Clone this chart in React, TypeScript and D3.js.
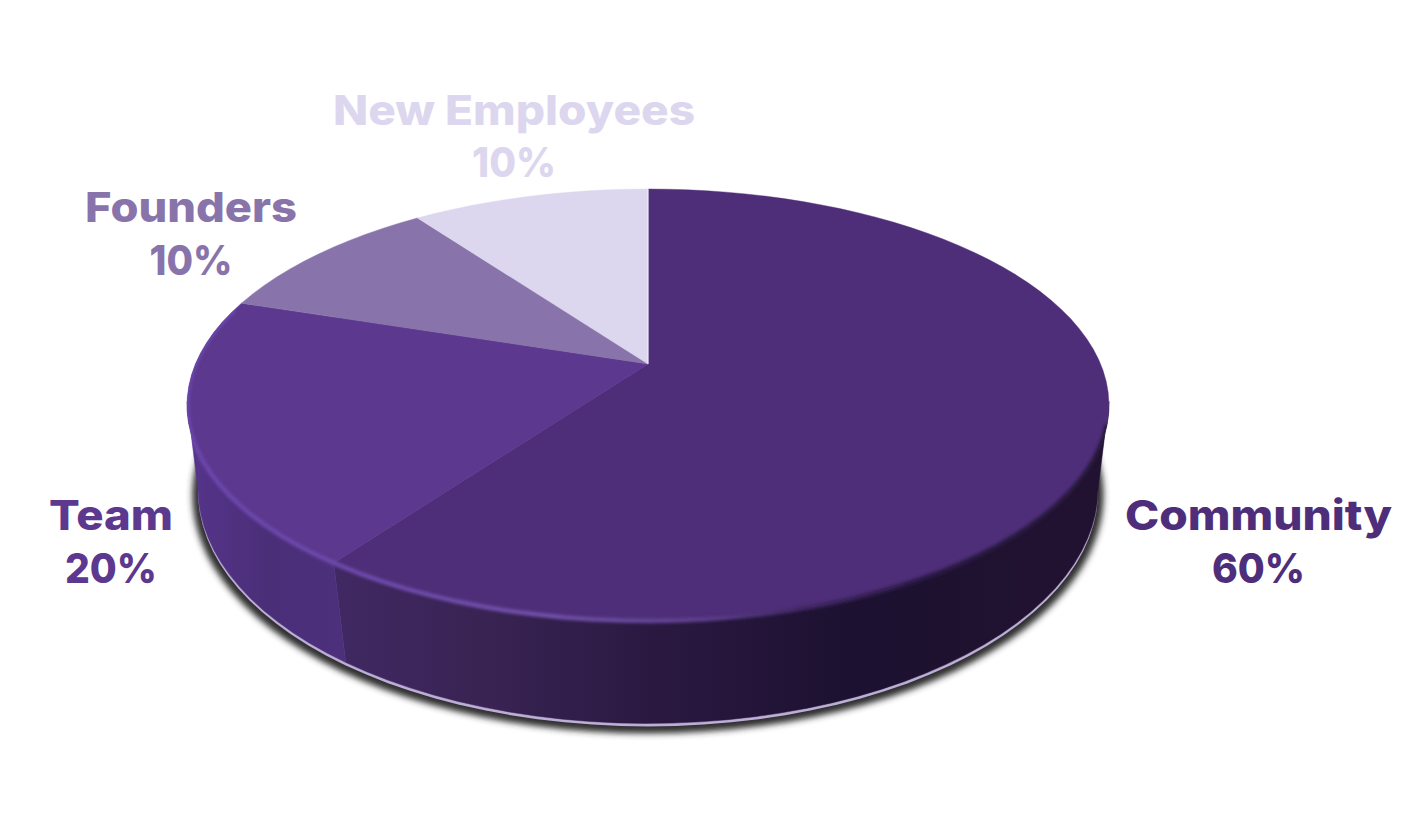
import React from "react";
import * as d3 from "d3";

const categories = ["Community", "Team", "Founders", "New Employees"];
const shares = [60, 20, 10, 10];
const sliceColors = ["#4e2e78", "#5c388e", "#8874ab", "#dcd7ee"];
const labelColors = ["#4e2e7a", "#5c388e", "#8874ab", "#dcd7ee"];

const W = 1416, H = 830;
const CX = 648;
// perspective maps of the unit disc onto the screen
const topDisc = { a: 452.6, b: 208.2, y0: 364, k: 0.1898 };
const baseDisc = { a: 443.5, b: 228.6, y0: 448, k: 0.17 };
// layout of the labels: name box and percent box
const labelBoxes = [
  { cx: 1258.5, nameW: 267, pctW: 93, nameY: 530, pctY: 583 },
  { cx: 111, nameW: 124, pctW: 92, nameY: 530, pctY: 583 },
  { cx: 191, nameW: 212, pctW: 83, nameY: 222, pctY: 275 },
  { cx: 514, nameW: 362, pctW: 84, nameY: 125, pctY: 177 },
];

type Disc = typeof topDisc;
const proj = (d: Disc, t: number, dy = 0, s = 1): [number, number] => {
  const u = Math.sin(t) * s, v = Math.cos(t) * s;
  const q = 1 + d.k * v;
  return [CX + (d.a * u) / q, d.y0 - (d.b * v) / q + dy];
};
const deg = (x: number) => (x * Math.PI) / 180;
const samples = (a: number, b: number) => {
  const n = Math.max(2, Math.ceil(Math.abs(b - a) / deg(3)));
  return d3.range(n + 1).map((i) => a + ((b - a) * i) / n);
};
const line = d3.line<[number, number]>();

const pieAngles = d3.pie<number>().sort(null).value((d) => d).startAngle(0).endAngle(Math.PI * 2)(shares);

const wedge = (a: number, b: number) =>
  line([[CX, topDisc.y0], ...samples(a, b).map((t) => proj(topDisc, t))])! + "Z";
const ribbon = (a: number, b: number) => {
  const ts = samples(a, b);
  return line([...ts.map((t) => proj(topDisc, t)), ...ts.slice().reverse().map((t) => proj(baseDisc, t))])! + "Z";
};
const disc = (d: Disc, dy = 0, s = 1) =>
  line(samples(0, Math.PI * 2).map((t) => proj(d, t, dy, s)))! + "Z";
const arc = (d: Disc, a: number, b: number) => line(samples(a, b).map((t) => proj(d, t)))!;

const font = "Inter, 'Open Sans', sans-serif";
const sideStart = deg(100), sideEnd = deg(260);
const clamp = (a: number) => Math.min(sideEnd, Math.max(sideStart, a));

export default function App() {
  return (
    <svg width={W} height={H} style={{ position: "absolute", left: 0, top: 0, background: "#fff" }}>
      <defs>
        <filter id="blurShadow" x="-10%" y="-10%" width="120%" height="120%">
          <feGaussianBlur stdDeviation="3.4" />
        </filter>
        <filter id="blurRim" x="-10%" y="-10%" width="120%" height="120%">
          <feGaussianBlur stdDeviation="1.8" />
        </filter>
        <clipPath id="bodyClip">
          <path d={disc(topDisc)} />
          <path d={ribbon(sideStart, sideEnd)} />
        </clipPath>
        <linearGradient id="side0" gradientUnits="userSpaceOnUse" x1="340" x2="1100" y1="0" y2="0">
          <stop offset="0" stopColor="#402862" />
          <stop offset="0.2" stopColor="#382352" />
          <stop offset="0.42" stopColor="#2a1841" />
          <stop offset="0.68" stopColor="#1c1130" />
          <stop offset="1" stopColor="#221231" />
        </linearGradient>
        <linearGradient id="side1" gradientUnits="userSpaceOnUse" x1="190" x2="345" y1="0" y2="0">
          <stop offset="0" stopColor="#55348a" />
          <stop offset="0.5" stopColor="#4b2e78" />
          <stop offset="1" stopColor="#4c307c" />
        </linearGradient>
        <linearGradient id="rim" gradientUnits="userSpaceOnUse" x1="190" x2="1100" y1="0" y2="0">
          <stop offset="0" stopColor="#6a45ad" />
          <stop offset="0.4" stopColor="#6f4fa8" />
          <stop offset="0.55" stopColor="#5d3f8e" />
          <stop offset="0.68" stopColor="#3e2560" />
          <stop offset="0.8" stopColor="#2a1845" />
          <stop offset="1" stopColor="#241438" />
        </linearGradient>
      </defs>

      <path d={disc(baseDisc, 6, 1.012)} fill="#2e2e2e" filter="url(#blurShadow)" />
      <path d={disc(baseDisc, 3)} fill="#bcaed6" />

      {pieAngles.map((p, i) => {
        const a = clamp(p.startAngle), b = clamp(p.endAngle);
        return b > a ? <path key={categories[i]} d={ribbon(a, b)} fill={`url(#side${i})`} stroke={`url(#side${i})`} strokeWidth={0.5} /> : null;
      })}

      {pieAngles.map((p, i) => (
        <path key={categories[i]} d={wedge(p.startAngle, p.endAngle)} fill={sliceColors[i]} stroke={sliceColors[i]} strokeWidth={0.4} />
      ))}

      <line x1={CX} x2={CX} y1={189} y2={topDisc.y0} stroke="#f4f2fa" strokeWidth={1} />

      <g clipPath="url(#bodyClip)">
        <path
          d={arc(topDisc, deg(106), deg(286))}
          fill="none"
          stroke="url(#rim)"
          strokeWidth={4.5}
          filter="url(#blurRim)"
        />
      </g>

      {categories.map((c, i) => {
        const l = labelBoxes[i];
        const style = { fontFamily: font, fontWeight: 800, fontSize: 41.5, fill: labelColors[i] };
        return (
          <g key={c} textAnchor="middle" style={style}>
            <text x={l.cx} y={l.nameY} textLength={l.nameW} lengthAdjust="spacingAndGlyphs">{c}</text>
            <text x={l.cx} y={l.pctY} textLength={l.pctW} lengthAdjust="spacingAndGlyphs">{`${shares[i]}%`}</text>
          </g>
        );
      })}
    </svg>
  );
}
